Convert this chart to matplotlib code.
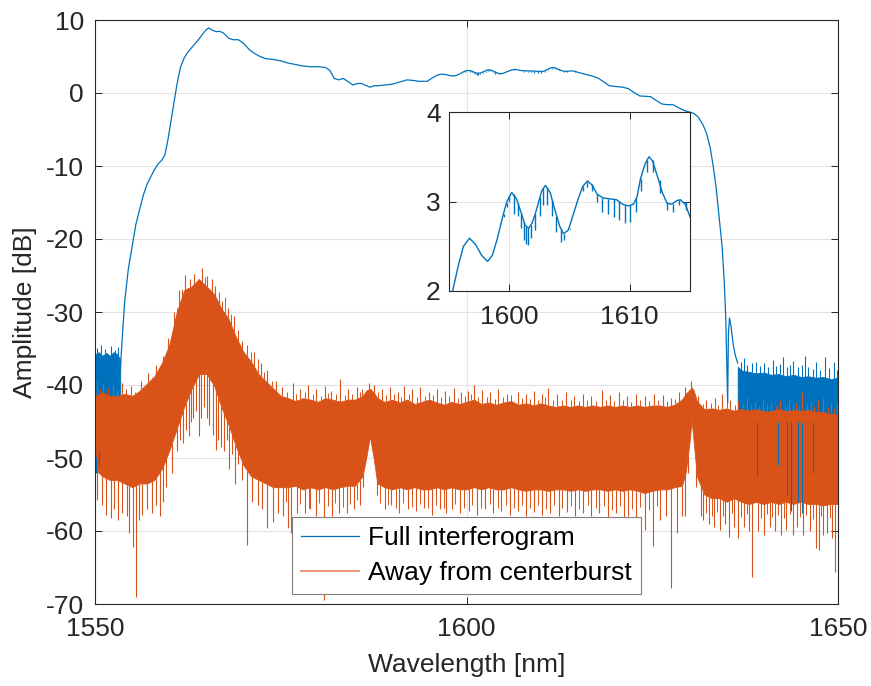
import numpy as np
import matplotlib.pyplot as plt

plt.rcParams['font.family'] = ['Liberation Sans', 'DejaVu Sans']
plt.rcParams['axes.unicode_minus'] = False

BLUE = '#0072BD'
ORANGE = '#D95319'
DARK = '#262626'

# ---- Full interferogram: smooth spectrum (nm, dB) ----
full_x = [1553.4, 1553.7, 1554.0, 1554.5, 1555.0, 1555.5, 1556.0, 1556.5, 1557.0, 1557.5,
          1558.0, 1558.5, 1559.0, 1559.4, 1559.8, 1560.2, 1560.6, 1561.0, 1561.5, 1562.0,
          1562.5, 1563.0, 1563.5, 1564.0, 1564.5, 1565.0, 1565.3, 1565.8, 1566.3, 1566.8,
          1567.3, 1568.0, 1568.6, 1569.3, 1570.0, 1570.8, 1571.5, 1572.2, 1573.0, 1574.0,
          1575.0, 1576.0, 1577.0, 1578.0, 1579.0, 1580.0, 1581.0, 1581.6, 1582.2, 1582.8,
          1583.4, 1584.0, 1584.7, 1585.3, 1585.9, 1586.5, 1587.0, 1587.6, 1588.2, 1589.0,
          1590.0, 1591.0, 1592.0, 1593.0, 1593.6, 1594.2, 1594.7, 1595.0,
          1595.3, 1595.8, 1596.2, 1596.7, 1597.2, 1597.7, 1598.2, 1598.6, 1599.0, 1599.4,
          1599.8, 1600.2, 1600.6, 1601.0, 1601.3, 1601.6, 1601.9, 1602.2, 1602.7, 1603.0,
          1603.4, 1603.8, 1604.2, 1604.5, 1604.9, 1605.3, 1605.7, 1606.1, 1606.5, 1606.9,
          1607.3, 1607.8, 1608.3, 1608.9, 1609.4, 1609.9, 1610.3, 1610.6, 1610.9, 1611.3,
          1611.6, 1611.9, 1612.3, 1612.7, 1613.1, 1613.5, 1613.9, 1614.2, 1614.6, 1615.0,
          1615.5, 1616.3, 1617.0, 1617.8, 1618.5, 1619.2, 1620.0, 1621.0, 1621.8, 1622.5,
          1623.3, 1624.0, 1624.8, 1625.5, 1626.3, 1627.0, 1627.8, 1628.5, 1629.3, 1630.0,
          1630.6, 1631.2, 1631.8, 1632.3, 1632.8, 1633.2, 1633.6, 1634.0, 1634.4, 1634.7,
          1634.9, 1635.05, 1635.15, 1635.25, 1635.4, 1635.6, 1635.9, 1636.2, 1636.5]
full_y = [-38.0, -33.0, -28.5, -24.0, -21.0, -18.0, -16.0, -14.0, -12.5, -11.5,
          -10.5, -9.7, -9.2, -8.5, -6.5, -4.0, -1.5, 1.0, 3.5, 4.8,
          5.6, 6.2, 6.8, 7.4, 8.1, 8.7, 8.9, 8.6, 8.4, 8.45,
          8.2, 7.5, 7.3, 7.3, 6.8, 5.9, 5.4, 5.0, 4.7, 4.6,
          4.4, 4.1, 3.9, 3.7, 3.6, 3.6, 3.5, 3.1, 2.0, 1.8,
          2.0, 1.6, 1.1, 1.3, 1.3, 1.0, 0.8, 1.0, 1.0, 1.1,
          1.2, 1.5, 1.8, 1.7, 1.6, 1.6, 1.6, 1.8,
          2.00, 2.30, 2.50, 2.59, 2.52, 2.40, 2.33, 2.40, 2.58, 2.80,
          3.00, 3.10, 3.03, 2.87, 2.74, 2.70, 2.76, 2.88, 3.12, 3.18,
          3.10, 2.90, 2.72, 2.64, 2.68, 2.85, 3.02, 3.17, 3.23, 3.18,
          3.08, 3.04, 3.03, 3.02, 2.97, 2.95, 2.97, 3.05, 3.26, 3.43,
          3.50, 3.45, 3.28, 3.10, 2.98, 2.97, 3.01, 3.02, 2.97, 2.83,
          2.70, 2.50, 2.30, 2.00, 1.50, 1.00, 0.90, 0.80, 0.60, 0.10,
          -0.40, -0.45, -0.50, -1.00, -1.50, -1.60, -1.60, -2.00, -2.40, -2.60,
          -2.80, -3.30, -4.30, -5.50, -7.50, -10.0, -13.0, -17.0, -21.0, -26.0,
          -31.0, -38.0, -42.5, -33.0, -30.8, -32.0, -34.5, -36.0, -37.0]

# periodic dips in the full spectrum (x, top, bottom)
dip_x = [1599.58, 1599.78, 1600.00, 1600.42, 1600.75, 1600.97, 1601.19, 1601.39, 1601.58, 1601.81,
         1602.17, 1602.56, 1602.83, 1603.14, 1603.56, 1603.89, 1604.31, 1604.53, 1605.00, 1606.11,
         1606.44, 1606.89, 1607.31, 1607.72, 1608.22, 1608.67, 1609.11, 1609.58, 1610.06, 1610.56,
         1610.97, 1611.47, 1611.94, 1612.50, 1613.06, 1613.56, 1614.08, 1614.67]
dip_top = [2.86, 2.98, 3.07, 3.08, 2.98, 2.86, 2.77, 2.72, 2.70, 2.74,
           2.86, 3.05, 3.15, 3.16, 3.02, 2.84, 2.69, 2.64, 2.69, 3.17,
           3.22, 3.19, 3.08, 3.04, 3.03, 3.03, 3.01, 2.96, 2.96, 3.04,
           3.25, 3.46, 3.46, 3.24, 2.98, 2.97, 3.02, 3.00]
dip_bot = [2.83, 2.94, 2.99, 2.86, 2.84, 2.70, 2.57, 2.53, 2.51, 2.59,
           2.68, 2.84, 2.96, 2.96, 2.84, 2.66, 2.55, 2.57, 2.70, 3.12,
           3.16, 3.12, 2.99, 2.88, 2.86, 2.83, 2.79, 2.76, 2.77, 2.88,
           3.12, 3.33, 3.33, 3.10, 2.90, 2.88, 2.96, 2.90]

# noise floor of the full interferogram outside the band
blue_left_x = [1550.0, 1550.5, 1551.0, 1551.5, 1552.0, 1552.5, 1553.0, 1553.4]
blue_left_hi = [-35.8, -35.5, -36.0, -35.6, -36.0, -35.5, -35.8, -36.5]
blue_left_lo = [-50.0, -49.0, -49.5, -49.0, -49.5, -49.0, -49.5, -45.0]
blue_right_x = [1636.5, 1637, 1638, 1639, 1640, 1641, 1642, 1643, 1644, 1645, 1646, 1647, 1648, 1649, 1650]
blue_right_hi = [-37.5, -38.0, -38.2, -38.4, -38.3, -38.6, -38.5, -38.8, -38.6, -38.9, -38.8, -39.0, -38.9, -39.2, -39.0]
blue_right_lo = [-44.0, -45.0, -45.0, -45.0, -45.0, -45.0, -45.0, -45.0, -45.0, -45.0, -45.0, -45.0, -45.0, -45.0, -45.0]
blue_up_x = [1550.3, 1550.8, 1551.4, 1552.1, 1552.7, 1553.1,
             1636.9, 1637.3, 1637.8, 1638.4, 1639.0, 1639.5, 1640.1, 1640.6, 1641.2, 1641.7,
             1642.2, 1642.6, 1643.2, 1643.6, 1644.0, 1644.6, 1645.1, 1645.5, 1646.0, 1646.6,
             1647.1, 1647.6, 1648.3, 1648.8, 1649.4, 1649.8]
blue_up_y = [-34.9, -34.5, -35.0, -34.6, -35.2, -34.8,
             -36.8, -36.3, -37.2, -37.0, -36.8, -37.4, -37.0, -37.5, -36.6, -37.4,
             -37.1, -36.2, -37.5, -37.2, -36.7, -37.6, -37.3, -36.0, -37.6, -37.8,
             -36.9, -37.9, -36.2, -37.7, -36.8, -37.9]
blue_dn_x = [1550.1, 1550.6, 1639.1, 1641.9, 1643.1, 1643.7, 1644.6, 1645.2, 1646.6]
blue_dn_y = [-52.0, -51.0, -52.5, -51.0, -55.0, -57.2, -56.0, -57.5, -52.0]

# ---- Away from centerburst: noise band (core envelope) ----
orange_x = [1550, 1551, 1552, 1553, 1554, 1555, 1556, 1557, 1558, 1559,
            1560, 1561, 1562, 1563, 1564, 1565, 1566, 1567, 1568, 1569,
            1570, 1571, 1572, 1573, 1574, 1575, 1576, 1577, 1578, 1579,
            1580, 1581, 1582, 1583, 1584, 1585, 1586, 1586.5, 1587, 1587.5,
            1588, 1589, 1590, 1591, 1592, 1593, 1594, 1595, 1596, 1597,
            1598, 1599, 1600, 1601, 1602, 1603, 1604, 1605, 1606, 1607,
            1608, 1609, 1610, 1611, 1612, 1613, 1614, 1615, 1616, 1617,
            1618, 1619, 1620, 1621, 1622, 1623, 1624, 1625, 1626, 1627,
            1628, 1629, 1629.5, 1630, 1630.3, 1630.6, 1631, 1632, 1633, 1634,
            1635, 1636, 1637, 1638, 1639, 1640, 1641, 1642, 1643, 1644,
            1645, 1646, 1647, 1648, 1649, 1650]
orange_hi = [-41.5, -41.0, -41.5, -41.5, -41.2, -41.5, -40.8, -39.8, -38.8, -37.0,
             -34.5, -30.0, -27.0, -26.5, -25.5, -26.5, -27.5, -29.5, -31.0, -33.5,
             -35.5, -36.8, -38.5, -39.5, -40.5, -41.5, -41.8, -42.2, -41.8, -42.0,
             -42.3, -41.8, -42.0, -42.3, -42.0, -42.0, -41.5, -40.8, -40.5, -41.0,
             -41.8, -42.3, -42.0, -42.4, -42.0, -42.6, -42.3, -42.0, -42.4, -42.7,
             -42.3, -42.6, -42.3, -42.0, -42.6, -42.4, -42.7, -42.4, -42.2, -42.7,
             -42.5, -42.8, -42.5, -42.8, -43.0, -42.8, -43.0, -42.8, -43.0, -42.8,
             -43.0, -42.8, -43.0, -42.8, -43.0, -42.8, -43.0, -42.8, -42.8, -43.0,
             -42.7, -42.0, -41.2, -40.7, -40.3, -40.8, -42.2, -43.3, -43.2, -43.4,
             -43.2, -43.5, -43.3, -43.5, -43.3, -43.6, -43.6, -43.3, -43.6, -43.4,
             -43.6, -43.4, -43.7, -43.7, -44.0, -44.0]
orange_lo = [-51.5, -52.5, -53.0, -53.0, -53.5, -54.0, -53.5, -53.5, -53.0, -51.5,
             -49.0, -46.0, -43.0, -40.5, -38.5, -38.5, -40.0, -43.0, -45.5, -48.5,
             -51.0, -52.5, -53.0, -53.5, -54.0, -54.0, -54.0, -53.8, -54.3, -54.0,
             -54.3, -54.0, -54.3, -54.0, -53.8, -53.8, -52.5, -50.0, -47.0, -50.0,
             -53.5, -54.0, -54.3, -54.0, -54.3, -54.0, -54.3, -54.3, -54.0, -54.3,
             -54.0, -54.3, -54.3, -54.0, -54.3, -54.0, -54.3, -54.3, -54.0, -54.3,
             -54.5, -54.3, -54.3, -54.5, -54.3, -54.3, -54.5, -54.3, -54.5, -54.3,
             -54.3, -54.5, -54.3, -54.5, -54.3, -54.5, -54.8, -54.5, -54.3, -54.3,
             -54.0, -53.8, -52.0, -48.0, -44.8, -48.0, -52.5, -55.0, -55.5, -55.5,
             -56.0, -55.5, -56.0, -56.3, -56.0, -56.3, -56.0, -56.3, -56.0, -56.3,
             -56.0, -56.3, -56.3, -56.5, -56.3, -56.3]

# spikes above / below the orange noise core (x, tip value)
orange_up_x = [1550.3, 1551.1, 1552.4, 1553.6, 1554.8, 1556.2, 1557.2, 1558.2, 1559.1, 1559.8,
               1560.6, 1561.3, 1562.1, 1562.8, 1563.3, 1564.4, 1565.1, 1565.7, 1566.2, 1567.1,
               1567.9, 1568.7, 1569.8, 1570.5, 1571.4, 1572.3, 1573.2, 1574.3, 1575.2, 1576.6,
               1577.6, 1578.7, 1579.8, 1580.9, 1581.8, 1583.0, 1584.1, 1585.2, 1586.0, 1586.9,
               1587.6, 1588.6, 1589.7, 1590.8, 1591.6, 1592.7, 1593.8, 1594.9, 1596.0, 1597.1,
               1598.3, 1599.3, 1600.2, 1601.0, 1602.1, 1603.2, 1604.3, 1605.4, 1606.9, 1608.0,
               1609.1, 1610.1, 1611.0, 1612.2, 1613.4, 1614.5, 1615.7, 1616.8, 1618.2, 1619.3,
               1620.5, 1621.6, 1622.8, 1624.0, 1625.2, 1626.4, 1627.5, 1628.6, 1629.4, 1630.2,
               1631.2, 1632.3, 1633.4, 1634.4, 1635.5, 1636.6, 1637.7, 1638.8, 1639.9, 1641.0,
               1642.2, 1643.4, 1644.3, 1645.2, 1646.3, 1647.3, 1648.0, 1649.1, 1649.8]
orange_up_y = [-39.5, -39.8, -40.0, -39.7, -40.2, -39.5, -38.3, -37.2, -36.0, -33.5,
               -30.0, -27.0, -24.9, -25.5, -24.8, -24.0, -25.0, -25.5, -26.5, -28.5,
               -29.5, -30.5, -34.0, -34.5, -35.5, -37.0, -38.0, -39.5, -40.3, -39.7,
               -40.5, -40.0, -40.6, -40.2, -40.8, -39.2, -40.5, -40.3, -40.5, -39.7,
               -40.0, -40.6, -40.3, -40.9, -40.2, -40.6, -40.3, -41.0, -40.5, -40.8,
               -40.4, -41.0, -40.8, -40.0, -40.7, -41.0, -40.5, -41.2, -40.9, -41.3,
               -40.8, -41.2, -40.4, -41.3, -41.0, -41.5, -41.2, -41.5, -40.7, -41.4,
               -41.0, -41.5, -41.2, -41.5, -41.3, -41.4, -41.8, -41.0, -40.3, -39.4,
               -41.5, -42.0, -41.8, -41.3, -42.0, -42.2, -41.8, -42.3, -41.9, -42.4,
               -42.0, -41.9, -42.4, -41.0, -42.3, -42.0, -41.8, -42.5, -42.3]
# smaller spikes between the tall ones
orange_up2_x = [1550.7, 1551.8, 1553.0, 1554.2, 1555.4, 1556.7, 1557.7, 1558.7, 1560.2, 1561.0,
                1561.7, 1563.8, 1564.8, 1566.7, 1567.5, 1568.3, 1569.3, 1571.0, 1571.9, 1572.8,
                1573.8, 1575.8, 1577.1, 1578.2, 1579.3, 1580.4, 1581.3, 1582.4, 1583.6, 1584.6,
                1585.6, 1588.1, 1589.2, 1590.3, 1591.2, 1592.2, 1593.3, 1594.4, 1595.5, 1596.6,
                1597.7, 1598.8, 1599.8, 1600.6, 1601.6, 1602.7, 1603.8, 1604.9, 1606.0, 1607.5,
                1608.6, 1609.6, 1610.6, 1611.6, 1612.8, 1614.0, 1615.1, 1616.2, 1617.4, 1618.8,
                1619.9, 1621.1, 1622.2, 1623.4, 1624.6, 1625.8, 1627.0, 1628.1, 1631.8, 1632.9,
                1633.9, 1635.0, 1636.1, 1637.2, 1638.3, 1639.4, 1640.5, 1641.6, 1642.8, 1643.9,
                1644.8, 1645.8, 1646.8, 1648.6, 1649.5]
orange_up2_y = [-40.6, -40.4, -40.8, -40.5, -40.9, -40.2, -39.3, -38.0, -34.0, -29.5,
                -26.8, -25.5, -25.2, -27.3, -28.0, -30.3, -32.5, -35.5, -36.5, -38.2,
                -39.4, -41.0, -41.3, -41.0, -41.2, -41.5, -41.1, -41.2, -41.4, -41.2,
                -41.0, -41.0, -41.4, -41.2, -41.6, -41.3, -41.6, -41.5, -41.4, -41.7,
                -41.5, -41.8, -41.5, -41.2, -41.6, -41.6, -41.9, -41.7, -41.4, -41.8,
                -41.9, -42.0, -41.7, -42.0, -42.1, -42.0, -42.2, -42.0, -42.2, -42.0,
                -42.2, -42.0, -42.3, -42.0, -42.2, -42.0, -42.2, -41.9, -42.6, -42.5,
                -42.7, -42.4, -42.8, -42.6, -42.7, -42.9, -42.6, -42.9, -42.7, -42.8,
                -42.9, -42.6, -42.9, -43.0, -43.1]
orange_dn_x = [1550.3, 1550.9, 1551.5, 1552.1, 1552.6, 1553.1, 1553.7, 1554.3, 1554.6, 1555.1,
               1555.5, 1555.9, 1556.3, 1557.0, 1557.7, 1558.2, 1558.7, 1559.2, 1559.6, 1560.3,
               1561.0, 1561.5, 1562.2, 1562.9, 1563.6, 1564.2, 1565.1, 1565.9, 1566.3, 1567.0,
               1567.8, 1568.4, 1569.2, 1569.8, 1570.5, 1571.1, 1571.9, 1572.5, 1573.1, 1573.9,
               1574.6, 1575.3, 1576.0, 1576.4, 1577.2, 1578.3, 1579.0, 1579.8, 1580.8, 1581.9,
               1582.8, 1583.9, 1584.8, 1585.6, 1586.1, 1587.9, 1589.0, 1589.9, 1590.9, 1592.1,
               1593.2, 1594.3, 1595.4, 1596.5, 1597.3, 1598.0, 1599.1, 1600.3, 1601.4, 1602.5,
               1603.6, 1604.7, 1605.8, 1606.9, 1608.0, 1609.1, 1610.2, 1611.3, 1612.4, 1613.5,
               1614.6, 1615.7, 1616.8, 1617.9, 1619.0, 1620.1, 1621.2, 1621.7, 1622.8, 1624.0,
               1625.1, 1626.0, 1626.8, 1627.5, 1628.3, 1629.0, 1629.4, 1629.8, 1630.9, 1631.5,
               1631.8, 1632.6, 1633.3, 1634.1, 1634.8, 1635.3, 1636.0, 1636.5, 1637.3, 1638.0,
               1638.4, 1639.2, 1640.0, 1640.8, 1641.5, 1642.3, 1643.0, 1644.0, 1644.5, 1645.3,
               1646.2, 1647.0, 1647.4, 1648.0, 1648.5, 1649.2, 1649.6,
               1561.8, 1562.6, 1563.2, 1564.0, 1564.7, 1565.4, 1566.6, 1567.4, 1568.1, 1568.9]
orange_dn_y = [-55.8, -56.5, -57.8, -58.2, -57.0, -58.5, -57.5, -58.0, -60.3, -62.2,
               -69.0, -58.5, -57.8, -57.0, -57.5, -56.5, -58.0, -56.0, -54.0, -52.0,
               -49.0, -47.5, -46.2, -45.0, -43.5, -44.5, -44.5, -46.8, -48.9, -48.5,
               -47.5, -49.5, -50.8, -53.0, -61.9, -56.0, -56.5, -57.0, -59.6, -58.8,
               -57.5, -58.0, -59.6, -60.3, -57.5, -57.5, -57.0, -58.0, -69.5, -58.0,
               -57.5, -57.5, -57.0, -56.5, -54.0, -55.0, -57.0, -56.5, -57.5, -57.0,
               -57.3, -56.8, -57.8, -57.0, -57.5, -57.0, -57.5, -57.2, -57.8, -57.0,
               -57.6, -57.2, -57.8, -57.3, -58.0, -57.4, -57.8, -57.5, -58.0, -57.4,
               -57.9, -57.5, -58.0, -57.6, -58.2, -57.6, -58.5, -58.0, -58.3, -59.9,
               -62.0, -58.5, -58.0, -67.8, -60.3, -58.0, -58.0, -52.0, -54.0, -58.0,
               -58.5, -59.0, -59.5, -59.9, -59.0, -60.8, -59.5, -61.0, -59.5, -60.0,
               -66.3, -60.0, -60.5, -59.5, -60.0, -60.5, -59.8, -60.5, -59.5, -60.5,
               -60.0, -62.3, -62.6, -60.5, -60.3, -61.0, -65.6,
               -48.0, -47.0, -44.5, -47.0, -43.0, -45.5, -47.5, -49.0, -51.5, -53.5]
orange_dn2_x = [1575.7, 1577.6, 1578.8, 1580.2, 1581.4, 1582.3, 1583.4, 1584.3, 1585.2, 1588.4,
                1589.5, 1590.5, 1591.5, 1592.6, 1593.7, 1594.8, 1595.9, 1597.0, 1598.5, 1599.6,
                1600.8, 1601.9, 1603.1, 1604.2, 1605.3, 1606.4, 1607.5, 1608.5, 1609.6, 1610.7,
                1611.8, 1612.9, 1614.1, 1615.2, 1616.3, 1617.4, 1618.5, 1619.6, 1620.7, 1622.3,
                1623.4, 1624.6, 1625.6, 1632.2, 1633.0, 1633.7, 1634.5, 1635.7, 1636.9, 1637.7,
                1639.6, 1640.4, 1641.1, 1641.9, 1642.7, 1643.5, 1644.9, 1645.7, 1646.6, 1647.7,
                1648.9]
orange_dn2_y = [-56.0, -56.3, -56.8, -56.2, -56.6, -56.1, -56.7, -56.3, -55.8, -56.2,
                -56.4, -56.8, -56.2, -56.7, -56.3, -56.9, -56.4, -56.8, -56.3, -56.9,
                -56.4, -56.8, -56.3, -56.9, -56.4, -56.9, -56.5, -56.8, -56.4, -57.0,
                -56.5, -56.9, -56.6, -57.0, -56.5, -56.9, -56.6, -57.1, -56.6, -57.0,
                -56.7, -57.1, -56.6, -57.5, -57.9, -57.4, -58.0, -57.6, -58.1, -57.7,
                -58.2, -57.7, -58.1, -57.8, -58.2, -57.7, -58.1, -57.8, -58.3, -57.9,
                -58.2]


def spikes(ax, xs, tips, env_x, env, color, lw=0.8):
    # each spike starts just inside the noise core at its own wavelength
    base = np.interp(xs, env_x, env)
    ax.vlines(xs, base, tips, color=color, lw=lw)


def draw_full(ax, lw=0.9):
    ax.fill_between(blue_left_x, blue_left_lo, blue_left_hi, color=BLUE, lw=0.6)
    ax.fill_between(blue_right_x, blue_right_lo, blue_right_hi, color=BLUE, lw=0.6)
    spikes(ax, blue_up_x, blue_up_y, blue_left_x + blue_right_x, blue_left_hi + blue_right_hi, BLUE)
    spikes(ax, blue_dn_x, blue_dn_y, blue_left_x + blue_right_x, blue_left_lo + blue_right_lo, BLUE)
    line, = ax.plot(full_x, full_y, color=BLUE, lw=lw, label='Full interferogram')
    ax.vlines(dip_x, dip_bot, dip_top, color=BLUE, lw=lw)
    return line


def draw_away(ax):
    ax.fill_between(orange_x, orange_lo, orange_hi, color=ORANGE, lw=0.6)
    spikes(ax, orange_up_x, orange_up_y, orange_x, orange_hi, ORANGE)
    spikes(ax, orange_up2_x, orange_up2_y, orange_x, orange_hi, ORANGE, lw=0.7)
    spikes(ax, orange_dn_x, orange_dn_y, orange_x, orange_lo, ORANGE)
    spikes(ax, orange_dn2_x, orange_dn2_y, orange_x, orange_lo, ORANGE, lw=0.7)
    line, = ax.plot([], [], color=ORANGE, lw=1.3, alpha=0.65, label='Away from centerburst')
    return line


def style(ax):
    ax.grid(True, color='#e3e3e3', lw=0.8)
    ax.set_axisbelow(True)
    ax.tick_params(direction='in', top=True, right=True, colors=DARK, length=5,
                   labelsize=19, width=0.7)
    for s in ax.spines.values():
        s.set_color(DARK)
        s.set_linewidth(0.8)


fig = plt.figure(figsize=(8.71, 6.86), dpi=100)
ax = fig.add_axes([95 / 871, 1 - 604 / 686, 743 / 871, 584 / 686])
style(ax)
l1 = draw_full(ax)
l2 = draw_away(ax)
ax.set_xlim(1550, 1650)
ax.set_ylim(-70, 10)
ax.set_xticks([1550, 1600, 1650])
ax.set_yticks(np.arange(-70, 11, 10))
ax.tick_params(axis='x', pad=9)
ax.tick_params(axis='y', pad=8)
ax.set_xlabel('Wavelength [nm]', fontsize=19, color=DARK, labelpad=9)
ax.set_ylabel('Amplitude [dB]', fontsize=19, color=DARK, labelpad=6)

leg = ax.legend(handles=[l1, l2], loc='lower center', bbox_to_anchor=(0.5, 0.017),
                fontsize=19, handlelength=2.2, handletextpad=0.35, borderpad=0.35,
                labelspacing=0.4, fancybox=False, framealpha=1, edgecolor='#7f7f7f',
                borderaxespad=0)
leg.get_frame().set_linewidth(0.8)

# inset zoom on the flat top
axin = fig.add_axes([449 / 871, 1 - 291 / 686, 241 / 871, 179 / 686])
style(axin)
draw_full(axin, lw=1.0)
axin.set_xlim(1595, 1615)
axin.set_ylim(2, 4)
axin.set_xticks([1600, 1610])
axin.set_yticks([2, 3, 4])
axin.tick_params(axis='x', pad=10)
axin.tick_params(axis='y', pad=6)

fig.savefig('out.png', dpi=100)
